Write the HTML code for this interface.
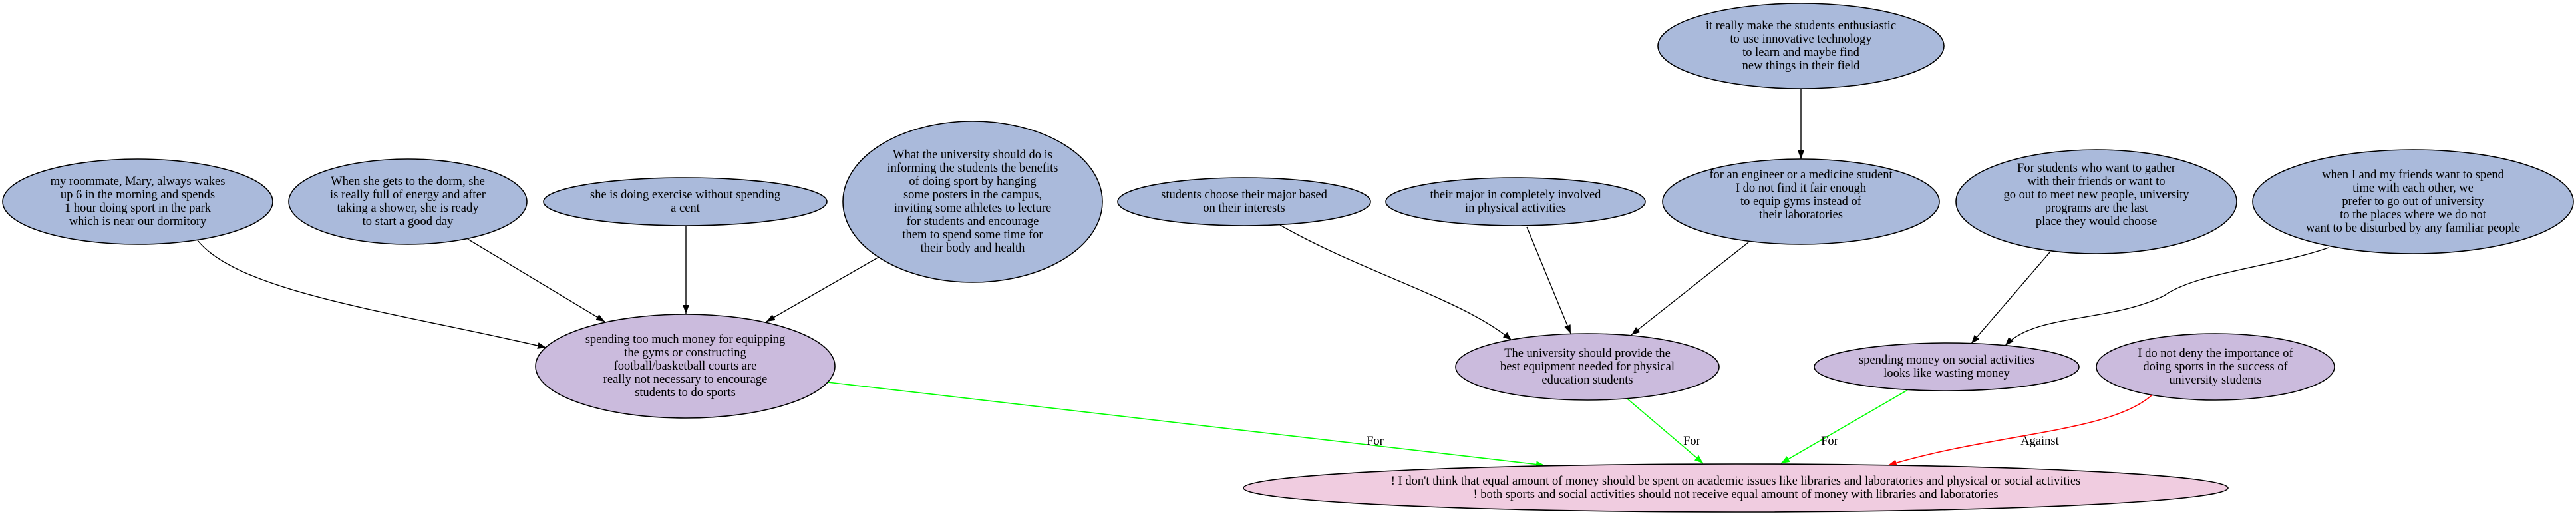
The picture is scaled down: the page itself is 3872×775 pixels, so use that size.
<!DOCTYPE html>
<html><head><meta charset="utf-8"><style>
html,body{margin:0;padding:0;background:#fff;}
svg{display:block;}
text{font-family:"Liberation Serif",serif;font-size:18.5px;fill:#000;text-anchor:middle;dominant-baseline:central;}
</style></head><body>
<svg width="3872" height="775" viewBox="0 0 3872 775" xmlns="http://www.w3.org/2000/svg">
<defs>
<marker id="ab" markerUnits="userSpaceOnUse" markerWidth="14" markerHeight="12" refX="13" refY="5" orient="auto"><path d="M0,0 L13,5 L0,10 z" fill="#000"/></marker>
<marker id="ag" markerUnits="userSpaceOnUse" markerWidth="14" markerHeight="12" refX="13" refY="5" orient="auto"><path d="M0,0 L13,5 L0,10 z" fill="#00ff00"/></marker>
<marker id="ar" markerUnits="userSpaceOnUse" markerWidth="14" markerHeight="12" refX="13" refY="5" orient="auto"><path d="M0,0 L13,5 L0,10 z" fill="#ff0000"/></marker>
</defs>
<g fill="none" stroke="#000" stroke-width="1.4">
<path d="M297,361 C360,440 600,470 821,522" marker-end="url(#ab)"/>
<path d="M703,359 L909,483" marker-end="url(#ab)"/>
<path d="M1031,339 L1031,471" marker-end="url(#ab)"/>
<path d="M1321,386 L1152,483" marker-end="url(#ab)"/>
<path d="M1924,338 C2050,410 2200,450 2272,511" marker-end="url(#ab)"/>
<path d="M2295,341 L2361,501" marker-end="url(#ab)"/>
<path d="M2628,364 L2452,503" marker-end="url(#ab)"/>
<path d="M2707,134 L2707,239" marker-end="url(#ab)"/>
<path d="M3081,379 L2963,516" marker-end="url(#ab)"/>
<path d="M3500,372 C3420,400 3300,410 3253,444 C3170,485 3060,470 3014,519" marker-end="url(#ab)"/>
</g>
<g fill="none" stroke-width="1.6">
<path d="M1244,574 L2322,699" stroke="#00ff00" marker-end="url(#ag)"/>
<path d="M2446,599 L2560,696" stroke="#00ff00" marker-end="url(#ag)"/>
<path d="M2867,586 L2677,696" stroke="#00ff00" marker-end="url(#ag)"/>
<path d="M3234,594 C3170,650 3000,650 2838,699" stroke="#ff0000" marker-end="url(#ar)"/>
</g>
<text x="2067" y="663">For</text>
<text x="2543" y="663">For</text>
<text x="2750" y="663">For</text>
<text x="3066" y="663">Against</text>
<g stroke="#000" stroke-width="1.6">
<ellipse cx="207" cy="303" rx="203" ry="64" fill="#aabadb"/>
<ellipse cx="613" cy="303" rx="179" ry="64" fill="#aabadb"/>
<ellipse cx="1030" cy="303" rx="213" ry="36" fill="#aabadb"/>
<ellipse cx="1462" cy="303" rx="195" ry="121" fill="#aabadb"/>
<ellipse cx="1030" cy="550" rx="225" ry="78" fill="#cbbbdd"/>
<ellipse cx="2707" cy="69" rx="215" ry="64" fill="#aabadb"/>
<ellipse cx="1870" cy="303" rx="190" ry="36" fill="#aabadb"/>
<ellipse cx="2278" cy="303" rx="195" ry="36" fill="#aabadb"/>
<ellipse cx="2707" cy="303" rx="208" ry="64" fill="#aabadb"/>
<ellipse cx="3151" cy="303" rx="211" ry="78" fill="#aabadb"/>
<ellipse cx="3627" cy="303" rx="241" ry="78" fill="#aabadb"/>
<ellipse cx="2386" cy="551" rx="198" ry="50" fill="#cbbbdd"/>
<ellipse cx="2926" cy="551" rx="199" ry="36" fill="#cbbbdd"/>
<ellipse cx="3330" cy="551" rx="179" ry="50" fill="#cbbbdd"/>
<ellipse cx="2609" cy="733" rx="740" ry="36" fill="#f0cce0"/>
</g>
<text x="207" y="273">my roommate, Mary, always wakes</text>
<text x="207" y="293">up 6 in the morning and spends</text>
<text x="207" y="313">1 hour doing sport in the park</text>
<text x="207" y="333">which is near our dormitory</text>
<text x="613" y="273">When she gets to the dorm, she</text>
<text x="613" y="293">is really full of energy and after</text>
<text x="613" y="313">taking a shower, she is ready</text>
<text x="613" y="333">to start a good day</text>
<text x="1030" y="293">she is doing exercise without spending</text>
<text x="1030" y="313">a cent</text>
<text x="1462" y="233">What the university should do is</text>
<text x="1462" y="253">informing the students the benefits</text>
<text x="1462" y="273">of doing sport by hanging</text>
<text x="1462" y="293">some posters in the campus,</text>
<text x="1462" y="313">inviting some athletes to lecture</text>
<text x="1462" y="333">for students and encourage</text>
<text x="1462" y="353">them to spend some time for</text>
<text x="1462" y="373">their body and health</text>
<text x="1030" y="510">spending too much money for equipping</text>
<text x="1030" y="530">the gyms or constructing</text>
<text x="1030" y="550">football/basketball courts are</text>
<text x="1030" y="570">really not necessary to encourage</text>
<text x="1030" y="590">students to do sports</text>
<text x="2707" y="39">it really make the students enthusiastic</text>
<text x="2707" y="59">to use innovative technology</text>
<text x="2707" y="79">to learn and maybe find</text>
<text x="2707" y="99">new things in their field</text>
<text x="1870" y="293">students choose their major based</text>
<text x="1870" y="313">on their interests</text>
<text x="2278" y="293">their major in completely involved</text>
<text x="2278" y="313">in physical activities</text>
<text x="2707" y="263">for an engineer or a medicine student</text>
<text x="2707" y="283">I do not find it fair enough</text>
<text x="2707" y="303">to equip gyms instead of</text>
<text x="2707" y="323">their laboratories</text>
<text x="3151" y="253">For students who want to gather</text>
<text x="3151" y="273">with their friends or want to</text>
<text x="3151" y="293">go out to meet new people, university</text>
<text x="3151" y="313">programs are the last</text>
<text x="3151" y="333">place they would choose</text>
<text x="3627" y="263">when I and my friends want to spend</text>
<text x="3627" y="283">time with each other, we</text>
<text x="3627" y="303">prefer to go out of university</text>
<text x="3627" y="323">to the places where we do not</text>
<text x="3627" y="343">want to be disturbed by any familiar people</text>
<text x="2386" y="531">The university should provide the</text>
<text x="2386" y="551">best equipment needed for physical</text>
<text x="2386" y="571">education students</text>
<text x="2926" y="541">spending money on social activities</text>
<text x="2926" y="561">looks like wasting money</text>
<text x="3330" y="531">I do not deny the importance of</text>
<text x="3330" y="551">doing sports in the success of</text>
<text x="3330" y="571">university students</text>
<text x="2609" y="723">! I don't think that equal amount of money should be spent on academic issues like libraries and laboratories and physical or social activities</text>
<text x="2609" y="743">! both sports and social activities should not receive equal amount of money with libraries and laboratories</text>
</svg>
</body></html>
